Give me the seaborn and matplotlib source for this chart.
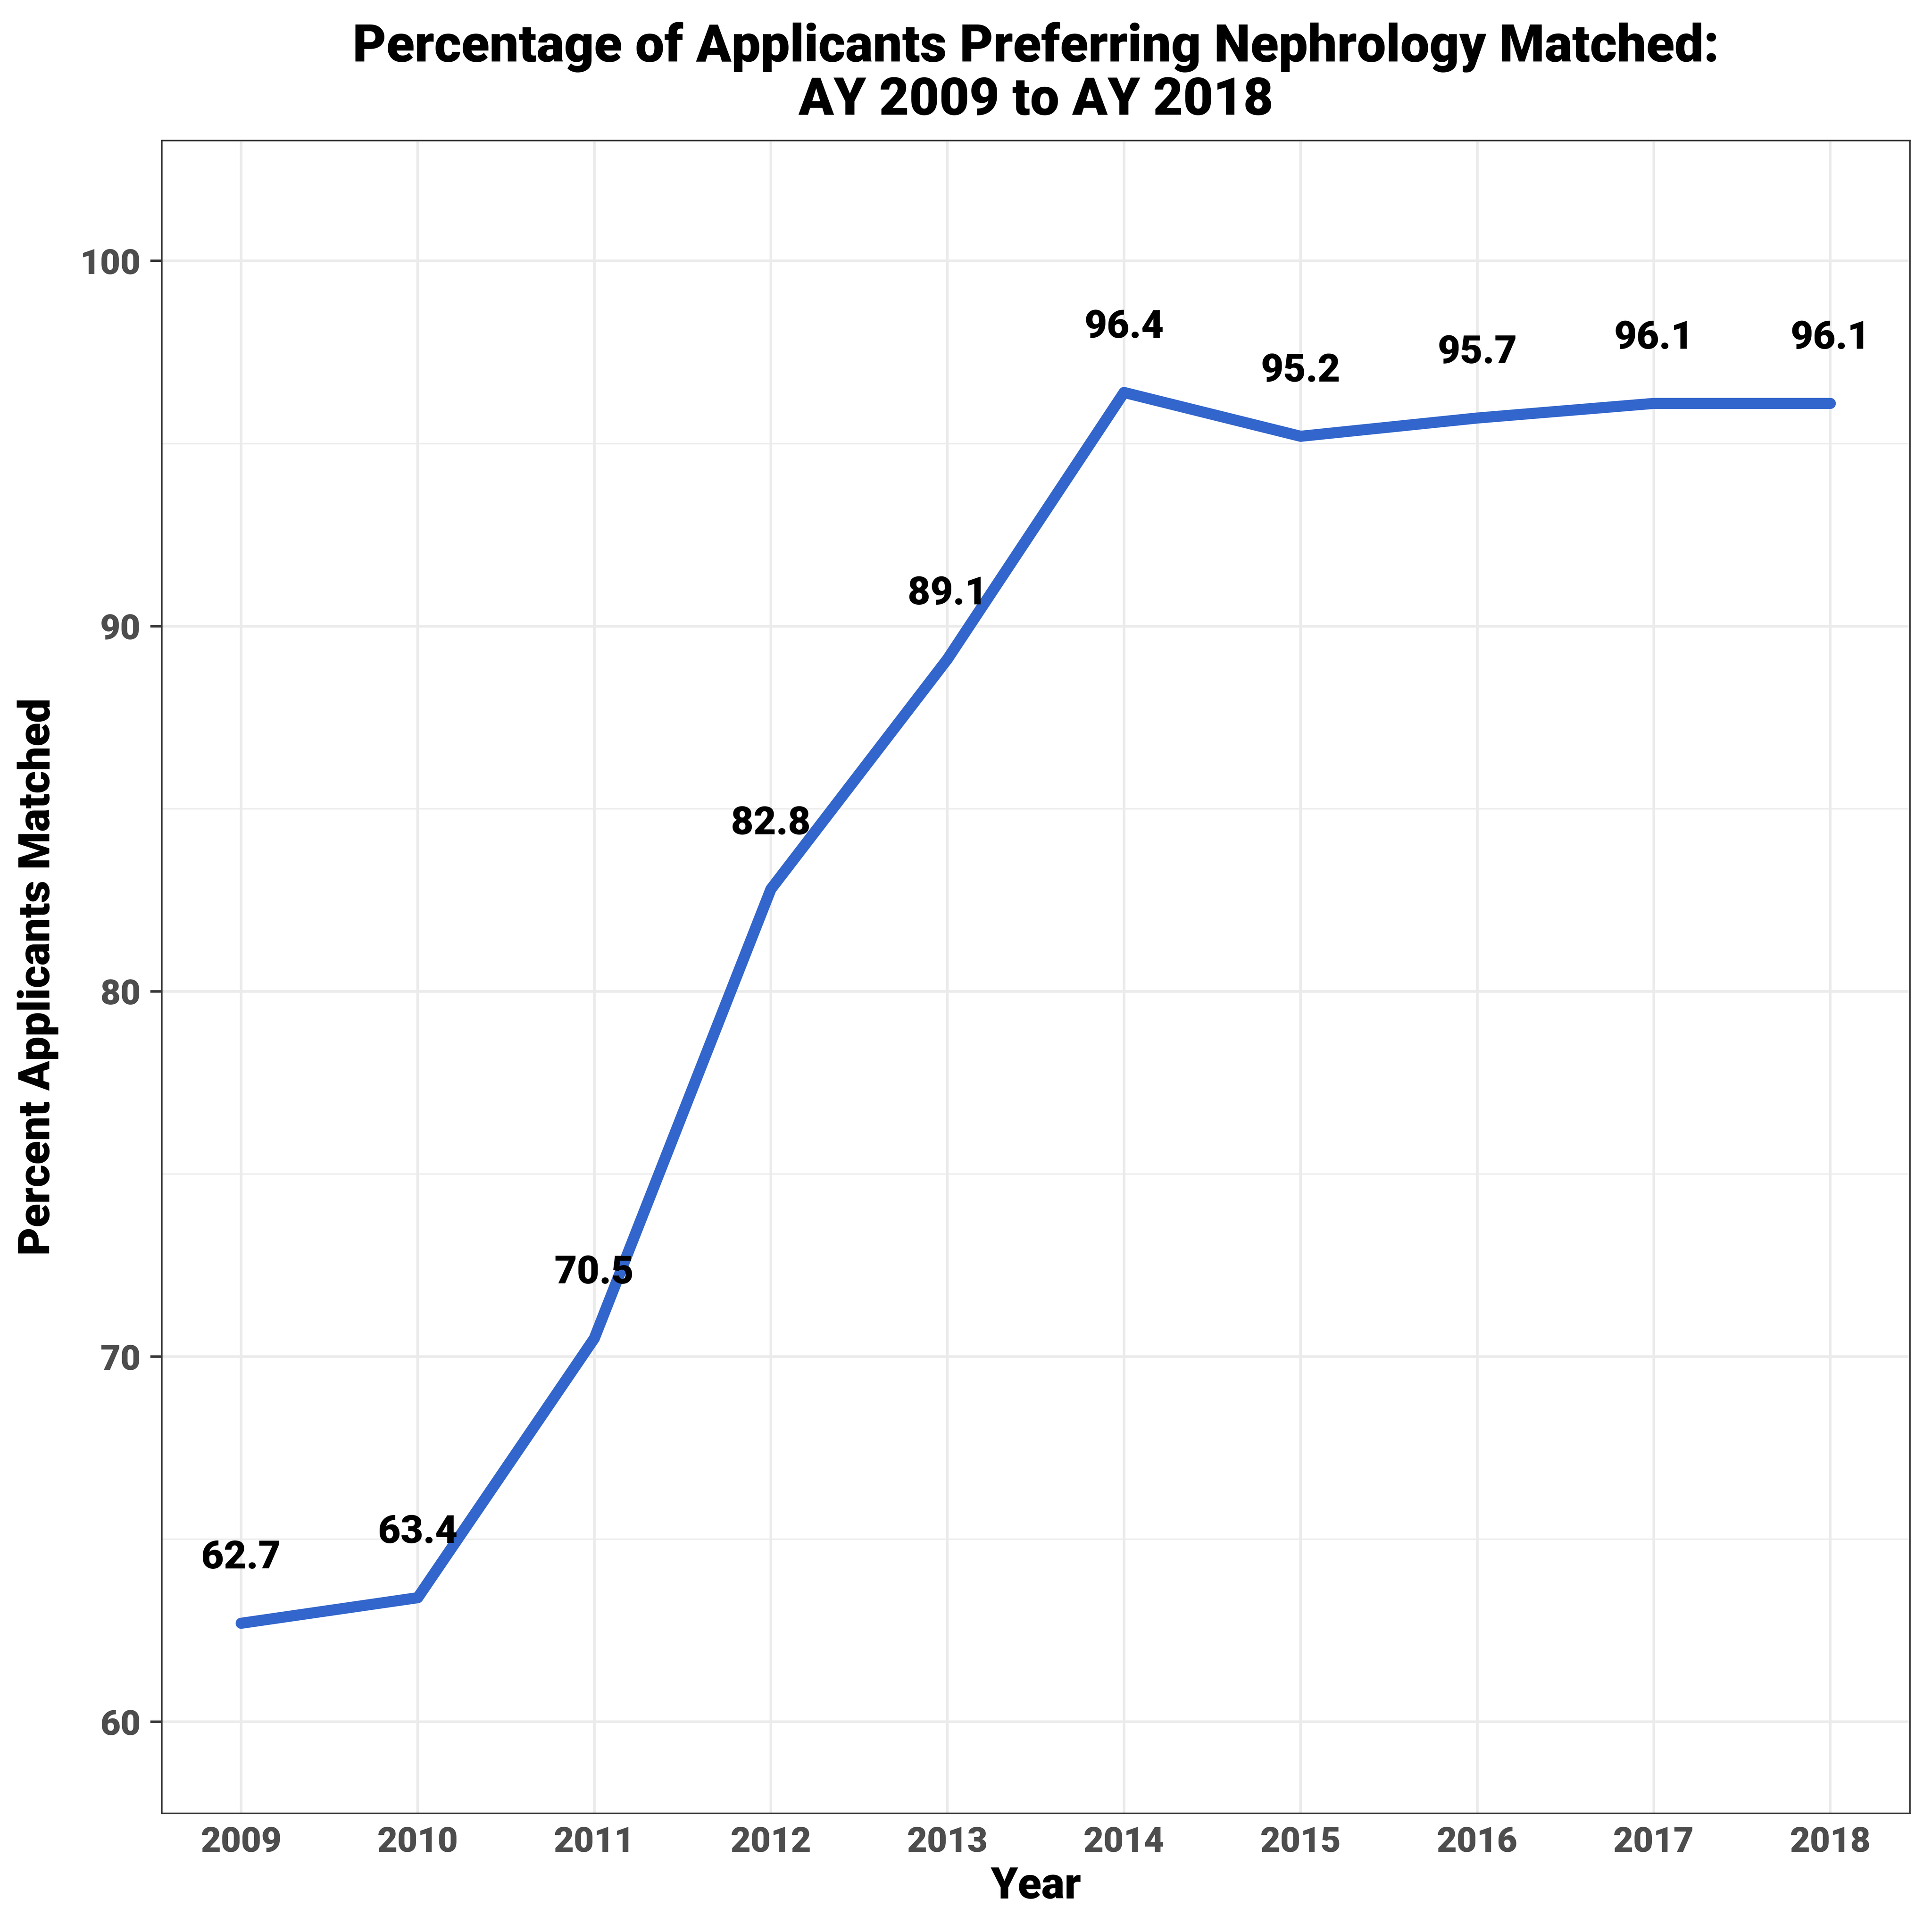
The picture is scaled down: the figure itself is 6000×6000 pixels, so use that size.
import matplotlib
matplotlib.use("Agg")
import matplotlib.pyplot as plt
import seaborn as sns
import pandas as pd
from matplotlib.ticker import MultipleLocator

years = [2009, 2010, 2011, 2012, 2013, 2014, 2015, 2016, 2017, 2018]
percent_matched = [62.7, 63.4, 70.5, 82.8, 89.1, 96.4, 95.2, 95.7, 96.1, 96.1]
y_ticks = [60, 70, 80, 90, 100]

title = "Percentage of Applicants Preferring Nephrology Matched:\nAY 2009 to AY 2018"
x_label = "Year"
y_label = "Percent Applicants Matched"

df = pd.DataFrame({"Year": years, "Percent": percent_matched})

sns.set_theme(style="white")
plt.rcParams['font.family'] = ['Roboto', 'DejaVu Sans']
W = 'black'

fig = plt.figure(figsize=(15, 15), dpi=400)
ax = fig.add_axes([0.0837, 0.0615, 0.9885 - 0.0837, 0.9273 - 0.0615])

ax.set_axisbelow(True)
ax.yaxis.set_major_locator(plt.FixedLocator(y_ticks))
ax.yaxis.set_minor_locator(MultipleLocator(5))
ax.set_xticks(years)
ax.grid(which='major', color='#EBEBEB', linewidth=1.45)
ax.grid(which='minor', axis='y', color='#EBEBEB', linewidth=0.75)

sns.lineplot(data=df, x="Year", y="Percent", ax=ax, color='#3366CC',
             linewidth=6.2, solid_capstyle='round', solid_joinstyle='round')

for x, y in zip(years, percent_matched):
    ax.text(x, y + 1.5, f"{y:.1f}", ha='center', va='baseline',
            fontsize=21.8, fontweight=W, color='black')

ax.set_xlim(2008.55, 2018.45)
ax.set_ylim(57.5, 103.3)

for s in ax.spines.values():
    s.set_visible(True)
    s.set_color('#333333')
    s.set_linewidth(0.85)

ax.tick_params(axis='x', which='both', length=0, pad=7, labelsize=19.5,
               labelcolor='#4D4D4D')
ax.tick_params(axis='y', which='major', length=6.3, width=1.4, color='#333333',
               pad=5.5, labelsize=19.5, labelcolor='#4D4D4D', left=True)
ax.tick_params(axis='y', which='minor', length=0)
for lab in ax.get_xticklabels() + ax.get_yticklabels():
    lab.set_fontweight(W)

ax.set_xlabel(x_label, fontsize=24.3, fontweight=W, color='black', labelpad=4)
ax.set_ylabel(y_label, fontsize=24.3, fontweight=W, color='black', labelpad=12)
ax.set_title(title, fontsize=29, fontweight=W, color='black',
             linespacing=1.08, pad=14.5)

fig.savefig("out.png", dpi=400, facecolor='white')
